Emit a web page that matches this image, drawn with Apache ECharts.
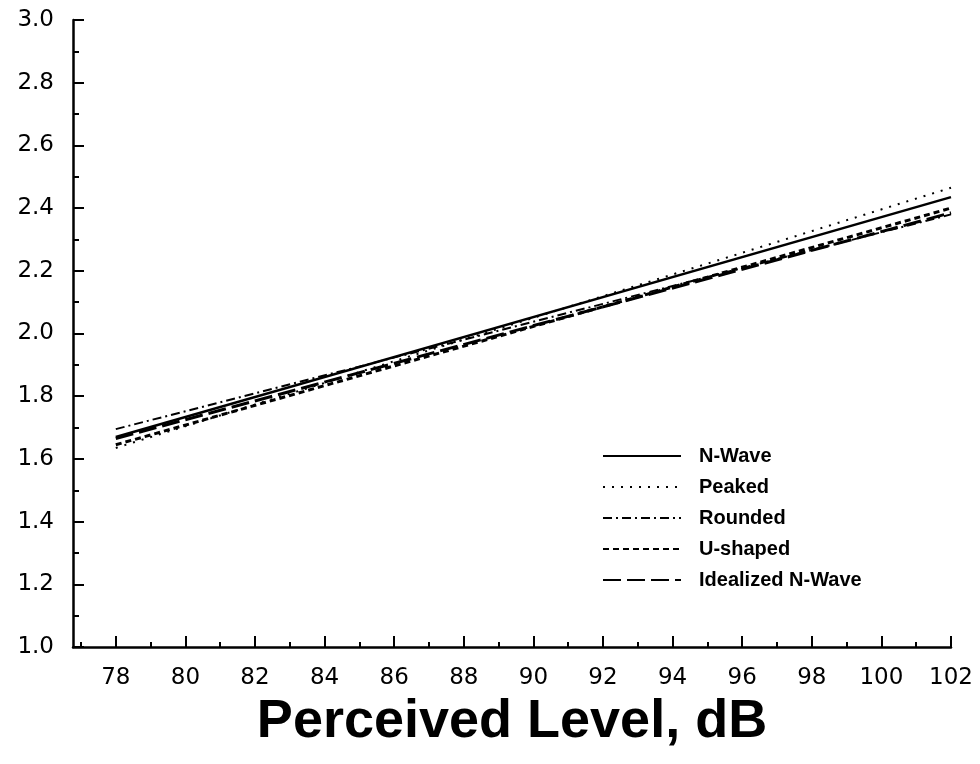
<!DOCTYPE html>
<html>
<head>
<meta charset="utf-8">
<script src="https://cdn.jsdelivr.net/npm/echarts@6/dist/echarts.min.js"></script>
<style>
html,body{margin:0;padding:0;background:#fff;}
#chart{width:980px;height:764px;}
</style>
</head>
<body>
<div id="chart"></div>
<script>
// perceived level endpoints (dB)
var levels = [78, 102];
// series values
var nWave = [1.670, 2.435];
var peaked = [1.635, 2.465];
var rounded = [1.695, 2.380];
var uShaped = [1.645, 2.400];
var idealized = [1.665, 2.385];

var seriesNames = ["N-Wave", "Peaked", "Rounded", "U-shaped", "Idealized N-Wave"];
var majorTicks = [78, 80, 82, 84, 86, 88, 90, 92, 94, 96, 98, 100, 102];
var minorTicks = [77, 79, 81, 83, 85, 87, 89, 91, 93, 95, 97, 99, 101];

function pairs(ys){
	var out = [];
	for(var i=0;i<levels.length;i++){
		out.push([levels[i], ys[i]]);
	}
	return out;
}

var mycharts = echarts.init(document.getElementById('chart'));

var lineStyles = [
	{width:2.5, type:'solid'},
	{width:2, type:[2,7]},
	{width:2, type:[9,4,2,4]},
	{width:3, type:[6,4]},
	{width:3, type:[18,6]}
];
var values = [nWave, peaked, rounded, uShaped, idealized];

var series = [];
for(var i=0;i<seriesNames.length;i++){
	series.push({
		name: seriesNames[i],
		type: 'line',
		symbol: 'none',
		xAxisIndex: 0,
		yAxisIndex: 0,
		data: pairs(values[i]),
		lineStyle: {color:'#000', width:lineStyles[i].width, type:lineStyles[i].type},
		itemStyle: {color:'#000'}
	});
}

var option = {
	animation: false,
	backgroundColor: '#fff',
	grid: {left:73, right:29, top:20, bottom:117, outerBoundsMode:'none', containLabel:false},
	legend: {
		orient: 'vertical',
		left: 597,
		top: 441,
		itemWidth: 78,
		itemHeight: 14,
		itemGap: 11,
		data: seriesNames,
		itemStyle: {color:'rgba(0,0,0,0)', borderWidth:0, opacity:0},
		textStyle: {fontFamily:'Liberation Sans', fontWeight:'bold', fontSize:20, color:'#000', padding:[0,0,0,13]}
	},
	xAxis: [{
		type: 'value',
		min: 76.77,
		max: 102,
		name: 'Perceived Level, dB',
		nameLocation: 'middle',
		nameGap: 46,
		nameTextStyle: {fontFamily:'Liberation Sans', fontWeight:'bold', fontSize:54, color:'#000'},
		axisLine: {lineStyle:{color:'#000', width:2.5}},
		axisTick: {inside:true, length:11, customValues:majorTicks, lineStyle:{color:'#000', width:2}},
		axisLabel: {customValues:majorTicks, margin:20, fontFamily:'DejaVu Sans', fontSize:23, color:'#000'},
		splitLine: {show:false}
	},{
		type: 'value',
		position: 'bottom',
		min: 76.77,
		max: 102,
		axisLine: {show:false},
		axisTick: {inside:true, length:5, customValues:minorTicks, lineStyle:{color:'#000', width:2}},
		axisLabel: {show:false},
		splitLine: {show:false}
	}],
	yAxis: {
		type: 'value',
		min: 1.0,
		max: 3.0,
		interval: 0.2,
		axisLine: {show:true, lineStyle:{color:'#000', width:2.5}},
		axisTick: {show:true, inside:true, length:11, lineStyle:{color:'#000', width:2}},
		minorTick: {show:true, splitNumber:2, length:6, lineStyle:{color:'#000', width:2}},
		axisLabel: {margin:19, fontFamily:'DejaVu Sans', fontSize:23, color:'#000',
			formatter:function(v){return v.toFixed(1);}},
		splitLine: {show:false}
	},
	series: series
};
mycharts.setOption(option);
</script>
</body>
</html>
